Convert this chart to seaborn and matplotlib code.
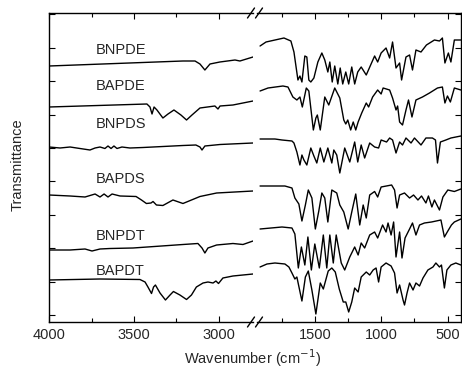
import numpy as np
import pandas as pd
import matplotlib
matplotlib.use("Agg")
import matplotlib.pyplot as plt
from matplotlib.lines import Line2D
from matplotlib.ticker import MultipleLocator
import seaborn as sns

# FTIR spectra, wavenumber (cm-1) and transmittance (arbitrary, stacked)
samples = ["BNPDE", "BAPDE", "BNPDS", "BAPDS", "BNPDT", "BAPDT"]

bnpde_wn = [4000, 3212, 3141, 3112, 3083, 3053, 2995, 2906, 2877, 2800,
            1912, 1867, 1732, 1680, 1657, 1627, 1612, 1597, 1575, 1560,
            1545, 1530, 1507, 1477, 1447, 1425, 1402, 1387, 1369, 1350,
            1327, 1309, 1290, 1267, 1245, 1222, 1200, 1177, 1151, 1113,
            1050, 1027, 1001, 964, 937, 915, 889, 862, 847, 814,
            787, 765, 739, 701, 660, 600, 562, 540, 521, 495,
            476, 450, 401]
bnpde_t = [256, 261, 261, 258, 252, 258, 260, 262, 261, 265,
           276, 280, 284, 281, 270, 242, 246, 240, 266, 265,
           242, 240, 244, 260, 269, 262, 250, 260, 240, 256,
           238, 254, 238, 250, 238, 255, 238, 250, 255, 247,
           266, 260, 269, 274, 264, 280, 254, 259, 242, 265,
           267, 252, 272, 270, 277, 282, 281, 284, 259, 269,
           260, 282, 282]

bapde_wn = [4000, 3424, 3406, 3394, 3382, 3365, 3330, 3300, 3265, 3224,
            3191, 3159, 3112, 3024, 3006, 2994, 2918, 2800,
            1912, 1852, 1740, 1702, 1665, 1635, 1612, 1594, 1564, 1545,
            1511, 1492, 1481, 1459, 1425, 1395, 1350, 1312, 1282, 1267,
            1252, 1230, 1211, 1192, 1174, 1147, 1113, 1095, 1065, 1027,
            1001, 986, 937, 915, 889, 877, 862, 840, 814, 795,
            769, 739, 690, 637, 577, 540, 521, 502, 480, 450, 401]
bapde_t = [215, 218, 215, 208, 215, 212, 204, 208, 212, 207,
           202, 207, 214, 216, 213, 216, 217, 221,
           231, 234, 236, 235, 225, 222, 225, 215, 234, 231,
           192, 204, 207, 192, 225, 217, 234, 224, 202, 198,
           202, 192, 200, 192, 200, 209, 219, 215, 225, 232,
           228, 234, 232, 224, 212, 216, 200, 197, 212, 222,
           205, 222, 225, 229, 234, 235, 219, 226, 220, 234, 232]

bnpds_wn = [4000, 3935, 3876, 3818, 3759, 3729, 3700, 3671, 3653, 3635,
            3618, 3600, 3571, 3524, 3447, 3212, 3136, 3112, 3100, 3083,
            2994, 2800,
            1912, 1800, 1747, 1672, 1657, 1635, 1612, 1597, 1582, 1560,
            1530, 1507, 1485, 1459, 1432, 1402, 1372, 1357, 1335, 1312,
            1275, 1237, 1200, 1177, 1151, 1125, 1087, 1050, 1020, 1001,
            960, 937, 915, 889, 862, 840, 814, 776, 750, 701,
            664, 615, 592, 577, 555, 514, 476, 401]
bnpds_t = [175, 174, 175, 173.5, 172, 174, 175, 173.5, 176, 173.5,
           176, 173.5, 175, 174, 174.5, 176.5, 177, 175, 172, 176,
           177.5, 179,
           183, 183, 182, 181, 179, 170, 157, 167, 162, 157,
           174, 166, 159, 174, 160, 174, 159, 172, 167, 149,
           174, 160, 180, 160, 177, 164, 179, 175, 174, 182,
           180, 184, 182, 169, 180, 177, 184, 179, 184, 177,
           184, 184, 182, 159, 180, 182, 184, 186]

bapds_wn = [4000, 3876, 3788, 3729, 3700, 3676, 3653, 3629, 3582, 3488,
            3456, 3427, 3400, 3388, 3368, 3330, 3271, 3212, 3162, 3112,
            3014, 2800,
            1912, 1725, 1672, 1650, 1620, 1597, 1571, 1549, 1522, 1496,
            1470, 1447, 1425, 1402, 1372, 1335, 1312, 1282, 1249, 1222,
            1192, 1162, 1136, 1113, 1087, 1050, 1027, 1001, 922, 900,
            881, 862, 825, 787, 757, 724, 697, 664, 645, 619,
            600, 562, 536, 499, 450, 401]
bapds_t = [127, 126, 125, 128, 125, 128, 125, 128, 126, 125.5,
           122, 118.5, 119, 120.5, 117, 116.5, 122, 118.5, 122, 125.5,
           129, 131,
           136, 136, 134, 124, 118, 101, 117, 132, 124, 93,
           111, 129, 124, 100, 132, 129, 117, 110, 93, 110,
           128, 97, 117, 104, 127, 130.5, 125, 135, 137, 132,
           114, 127, 129, 124, 127, 122, 126, 119, 126, 115,
           122, 112, 125, 132, 130.5, 133]

bnpdt_wn = [4000, 3876, 3788, 3747, 3700, 3641, 3506, 3212, 3124, 3100,
            3083, 3065, 3014, 2918, 2859, 2800,
            1912, 1747, 1672, 1650, 1624, 1601, 1575, 1552, 1526, 1500,
            1466, 1436, 1410, 1387, 1361, 1339, 1301, 1275, 1237, 1200,
            1174, 1151, 1125, 1087, 1050, 1027, 990, 964, 949, 926,
            907, 889, 862, 844, 821, 787, 765, 739, 712, 675,
            622, 551, 525, 499, 472, 450, 401]
bnpdt_t = [72, 72, 73, 71, 73, 73.5, 74, 77.5, 78.5, 74,
           69, 74, 77, 78.5, 77.5, 81,
           93, 95, 94, 88, 54, 75, 57, 85, 52, 78,
           54, 87, 54, 87, 59, 87, 59, 52, 65, 75,
           67, 79, 74, 87, 90, 84, 97, 90, 99, 87,
           100, 65, 90, 64, 84, 93, 99, 87, 97, 99,
           100, 102, 85, 91, 97, 100, 103]

bapdt_wn = [4000, 3700, 3465, 3435, 3418, 3397, 3385, 3374, 3347, 3315,
            3288, 3268, 3230, 3191, 3162, 3133, 3094, 3065, 3035, 3018,
            3003, 2977, 2918, 2800,
            1912, 1860, 1800, 1725, 1695, 1672, 1650, 1635, 1597, 1571,
            1549, 1522, 1492, 1459, 1436, 1399, 1372, 1346, 1316, 1286,
            1267, 1245, 1222, 1200, 1174, 1151, 1113, 1087, 1061, 1039,
            1020, 1001, 964, 926, 900, 881, 862, 836, 825, 806,
            787, 761, 739, 712, 686, 649, 611, 589, 562, 547,
            525, 506, 476, 439, 401]
bapdt_t = [42, 43, 42.5, 40, 35, 28.5, 35, 37, 29, 22,
           27, 30.5, 27, 22.5, 27, 35, 39, 40, 39, 41,
           38.5, 44, 46, 48,
           55, 58, 59, 58, 55, 49, 43, 45, 21, 45,
           51, 32, 8, 39, 33, 51, 54, 50, 33, 20,
           20, 10, 20, 34, 30, 45, 50, 47, 52, 54,
           40, 55, 59, 56, 49, 29, 37, 22, 17, 29,
           39, 32, 39, 36, 44, 52, 55, 59, 55, 57,
           34, 52, 57, 59, 57]

spectra = {
    "BNPDE": (bnpde_wn, bnpde_t),
    "BAPDE": (bapde_wn, bapde_t),
    "BNPDS": (bnpds_wn, bnpds_t),
    "BAPDS": (bapds_wn, bapds_t),
    "BNPDT": (bnpdt_wn, bnpdt_t),
    "BAPDT": (bapdt_wn, bapdt_t),
}

sns.set_style("ticks")
plt.rcParams["font.family"] = ["Liberation Sans", "DejaVu Sans"]
plt.rcParams["font.size"] = 10.5

W, H = 462, 375
fig = plt.figure(figsize=(W / 100, H / 100), dpi=100)
ax1 = fig.add_axes([49 / W, 53 / H, 204 / W, 309 / H])
ax2 = fig.add_axes([257 / W, 53 / H, 204 / W, 309 / H])

for name in samples:
    wn, t = spectra[name]
    df = pd.DataFrame({"wn": wn, "t": t})
    hi = df[df["wn"] > 2500]
    lo = df[df["wn"] < 2500]
    sns.lineplot(data=hi, x="wn", y="t", ax=ax1, color="black", linewidth=1.0,
                 estimator=None, sort=False, legend=False)
    sns.lineplot(data=lo, x="wn", y="t", ax=ax2, color="black", linewidth=1.0,
                 estimator=None, sort=False, legend=False)

# sample labels
label_y = [272, 236, 198, 143, 86, 51]
for name, y in zip(samples, label_y):
    ax1.text(3724, y, name, ha="left", va="center", fontsize=10.5)

ax1.set_xlim(4000, 2800)
ax2.set_xlim(1935, 400)
for ax in (ax1, ax2):
    ax.set_ylim(0, 309)
    ax.set_xlabel("")
    ax.set_ylabel("")
    ax.set_yticks(np.arange(7, 309, 33.4))
    ax.xaxis.set_major_locator(MultipleLocator(500))
    ax.xaxis.set_minor_locator(MultipleLocator(250))
    for s in ax.spines.values():
        s.set_linewidth(1.0)
        s.set_color("black")
    ax.tick_params(which="both", direction="in", top=True, color="black",
                   labelleft=False, labelright=False, labelsize=10.5, pad=4)
    ax.tick_params(which="major", length=4, width=0.8)
    ax.tick_params(which="minor", length=3, width=0.8)

ax1.spines["right"].set_visible(False)
ax1.tick_params(axis="y", left=True, right=False)
ax2.spines["left"].set_visible(False)
ax2.tick_params(axis="y", left=False, right=True)

# axis break marks
for yp in (13, 322):
    for xc in (251, 259):
        fig.add_artist(Line2D([(xc - 3.5) / W, (xc + 3.5) / W],
                              [1 - (yp + 5) / H, 1 - (yp - 5) / H],
                              transform=fig.transFigure, color="black", lw=1.0))

fig.text(253 / W, 1 - 358 / H, "Wavenumber (cm$^{-1}$)", ha="center", va="center",
         fontsize=10.5)
fig.text(18 / W, 1 - 165 / H, "Transmittance", ha="center", va="center",
         rotation=90, fontsize=10.5)

fig.savefig("out.png", dpi=100)
